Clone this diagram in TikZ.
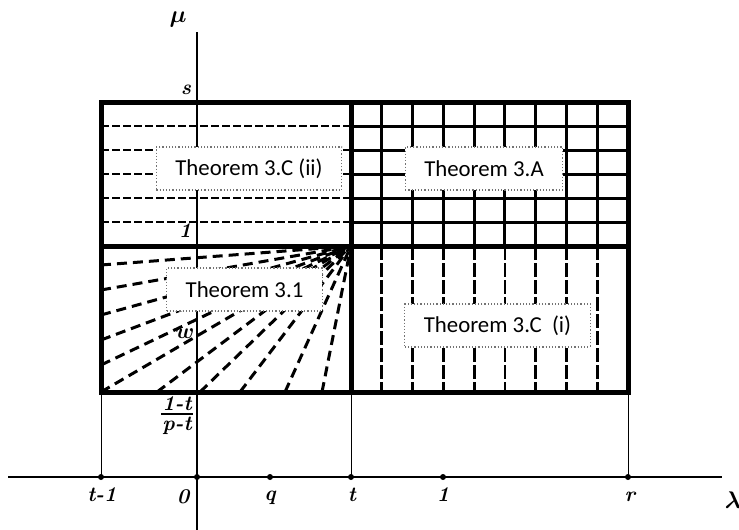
\documentclass[tikz,border=0pt]{standalone}
\usepackage{amsmath,bm}
\usepackage{fontspec}
\newfontfamily\thmfont{Carlito}
\usepackage{tikz}
\usetikzlibrary{positioning,calc}

\begin{document}
\begin{tikzpicture}[x=0.5pt,y=-0.5pt,
  axis/.style={line width=1.3pt},
  frame/.style={line width=2.5pt},
  gridline/.style={line width=1.5pt},
  hdash/.style={line width=1.4pt,dash pattern=on 4pt off 1.5pt},
  vdash/.style={line width=1.4pt,dash pattern=on 7pt off 1.5pt},
  rdash/.style={line width=1.5pt,dash pattern=on 5pt off 3pt},
  guide/.style={line width=0.4pt},
  thm/.style={draw=black!55,densely dotted,line width=0.6pt,fill=white,font=\thmfont\fontsize{11.4}{13}\selectfont,inner xsep=9.5pt,minimum height=21.5pt},
  lab/.style={font=\fontsize{10.5}{12}\selectfont\bfseries\itshape\boldmath,inner sep=1pt},
  tick/.style={circle,fill,inner sep=0pt,minimum size=3pt}
]
  \useasboundingbox (0,0) rectangle (739,530);

  % corners of the frame and the meeting point of the four regions
  \coordinate (NW) at (101,102);
  \coordinate (NE) at (628,102);
  \coordinate (SW) at (101,392);
  \coordinate (SE) at (628,392);
  \coordinate (C)  at (351,246);
  % axis ends
  \coordinate (xL) at (8,477);
  \coordinate (xR) at (722,477);
  \coordinate (yT) at (197,32);
  \coordinate (yB) at (197,530);

  % top left -- dashed horizontals
  \foreach \y in {126,150,174,198,222}
    \draw[hdash] (101,\y) -- (351,\y);

  % top right -- grid
  \foreach \y in {126,150,174,198,222}
    \draw[gridline] (351,\y) -- (628,\y);
  \foreach \i in {1,...,8}
    \draw[gridline] ({351+\i*30.78},102) -- ({351+\i*30.78},246);

  % bottom right -- dashed verticals
  \foreach \i in {1,...,8}
    \draw[vdash] ({351+\i*30.78},246) -- ({351+\i*30.78},392);

  % bottom left -- rays into the corner
  \foreach \y in {265,290,315,340,365}
    \draw[rdash] (101,\y) -- (C);
  \foreach \x in {101,157,200,240,285,322}
    \draw[rdash] (\x,392) -- (C);

  % axes
  \draw[axis] (xL) -- (xR);
  \draw[axis] (yT) -- (yB);

  % guides down to the lambda axis
  \draw[guide] (SW) -- (SW |- xL);
  \draw[guide] (C |- SW) -- (C |- xL);
  \draw[guide] (SE) -- (SE |- xL);

  % frame and dividers
  \draw[frame] (NW) rectangle (SE);
  \draw[frame] (NW |- C) -- (NE |- C);
  \draw[frame] (C |- NW) -- (C |- SW);

  % ticks
  \foreach \x/\n in {101/tm,197/o,270/q,351/t,443/one,628/r}
    \node[tick] (d\n) at (\x,477) {};

  % region labels
  \node[thm] (thmCii) at (249,168.5) {Theorem 3.C (ii)};
  \node[thm] (thmA)   at (484,168.5) {Theorem 3.A};
  \node[thm] (thmOne) at (244.5,289.5) {Theorem 3.1};
  \node[thm] (thmCi)  at (497.5,325.5) {Theorem 3.C\ \ (i)};

  % axis labels
  \node[lab,font=\fontsize{12}{14}\selectfont\boldmath] (mu) at (178,20) {$\mu$};
  \node[lab,font=\fontsize{12}{14}\selectfont\boldmath] (lam) at (733,500) {$\lambda$};
  \node[lab] (ls)   at (186,90)  {s};
  \node[lab] (lone) at (185,231) {1};
  \node[lab] (lw)   at (185,334) {$w$};
  \node[lab] (fnum) at (177,404) {1-t};
  \node[lab] (fden) at (177,426) {p-t};
  \draw[line width=1pt] (161,413.5) -- (193,413.5);
  \node[lab] (ltm)  at (102,495) {t-1};
  \node[lab] (lo)   at (183,497) {0};
  \node[lab] (lq)   at (270,498) {q};
  \node[lab] (lt)   at (352,495) {t};
  \node[lab] (lx1)  at (443,495) {1};
  \node[lab] (lr)   at (630,497) {r};
\end{tikzpicture}
\end{document}
